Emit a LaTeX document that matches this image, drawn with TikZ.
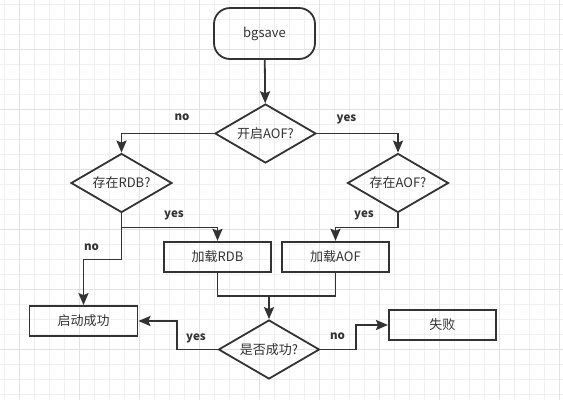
\documentclass[tikz,border=0pt]{standalone}
\usepackage{fontspec}
\setmainfont{Noto Sans CJK SC}
\usetikzlibrary{shapes.geometric,arrows.meta}
\definecolor{ink}{HTML}{333333}
\definecolor{gridminor}{HTML}{F0F0F0}
\definecolor{gridmajor}{HTML}{E2E2E2}
\tikzset{
	flow/.style={draw=ink, line width=1.8pt, text=ink, font=\fontsize{13}{15}\selectfont, inner sep=0pt},
	startbox/.style={flow, rectangle, rounded corners=16pt, minimum width=101pt, minimum height=51pt},
	procbox/.style={flow, rectangle, minimum width=107pt, minimum height=30pt},
	decision/.style={flow, diamond, aspect=1.7, minimum width=101pt, minimum height=59pt},
	arr/.style={draw=ink, line width=1.8pt, -{Stealth[length=12pt,width=10pt,inset=2pt]}},
	link/.style={draw=ink, line width=1.8pt},
	lbl/.style={text=ink, font=\fontsize{11.5}{13}\selectfont\bfseries, inner sep=0pt}
}
\begin{document}
\begin{tikzpicture}[x=1pt, y=-1pt]
	
	\useasboundingbox (0,0) rectangle (563,400);
	\fill[white] (0,0) rectangle (563,400);
	\foreach \i in {0,...,37} \draw[gridminor, line width=0.8pt] (4.3+15*\i,0) -- (4.3+15*\i,400);
	\foreach \i in {0,...,26} \draw[gridminor, line width=0.8pt] (0,4.3+15*\i) -- (563,4.3+15*\i);
	\foreach \i in {0,...,9} \draw[gridmajor, line width=0.8pt] (19.3+60*\i,0) -- (19.3+60*\i,400);
	\foreach \i in {0,...,6} \draw[gridmajor, line width=0.8pt] (0,49.3+60*\i) -- (563,49.3+60*\i);
	
	\node[startbox] (bgsave) at (264.5,33.5) {bgsave};
	\node[decision] (aof) at (265.5,133.5) {开启AOF?};
	\node[decision] (rdbq) at (121.5,183) {存在RDB?};
	\node[decision] (aofq) at (398,183) {存在AOF?};
	\node[procbox] (loadrdb) at (217.5,256.7) {加载RDB};
	\node[procbox] (loadaof) at (335.5,256.7) {加载AOF};
	\node[decision] (check) at (269,349.5) {是否成功?};
	\node[procbox, minimum width=108pt] (ok) at (83.5,321) {启动成功};
	\node[procbox] (fail) at (442.4,325) {失败};
	\coordinate (merge) at (269,296);
	
	\draw[arr] (bgsave) -- (aof);
	\draw[arr] (aof.west) -| (rdbq.north);
	\draw[arr] (aof.east) -| (aofq.north);
	\draw[arr] (rdbq.south) -- ++(0,14) -| (loadrdb.north);
	\draw[arr] (rdbq.south) -- ++(0,46) -| (ok.north);
	\draw[arr] (aofq.south) -- ++(0,14) -| (loadaof.north);
	\draw[link] (loadrdb.south) |- (merge) -| (loadaof.south);
	\draw[arr] (merge) -- (check.north);
	\draw[arr] (check.west) -- ++(-40.5,0) |- (ok.east);
	\draw[arr] (check.east) -- ++(35.5,0) |- (fail.west);
	
	\node[lbl] (l1) at (182,117) {no};
	\node[lbl] (l2) at (346.5,119) {yes};
	\node[lbl] (l3) at (174,215) {yes};
	\node[lbl] (l4) at (364,215) {yes};
	\node[lbl] (l5) at (91.5,247.5) {no};
	\node[lbl] (l6) at (196,338) {yes};
	\node[lbl] (l7) at (337.5,336.5) {no};
	
\end{tikzpicture}
\end{document}
